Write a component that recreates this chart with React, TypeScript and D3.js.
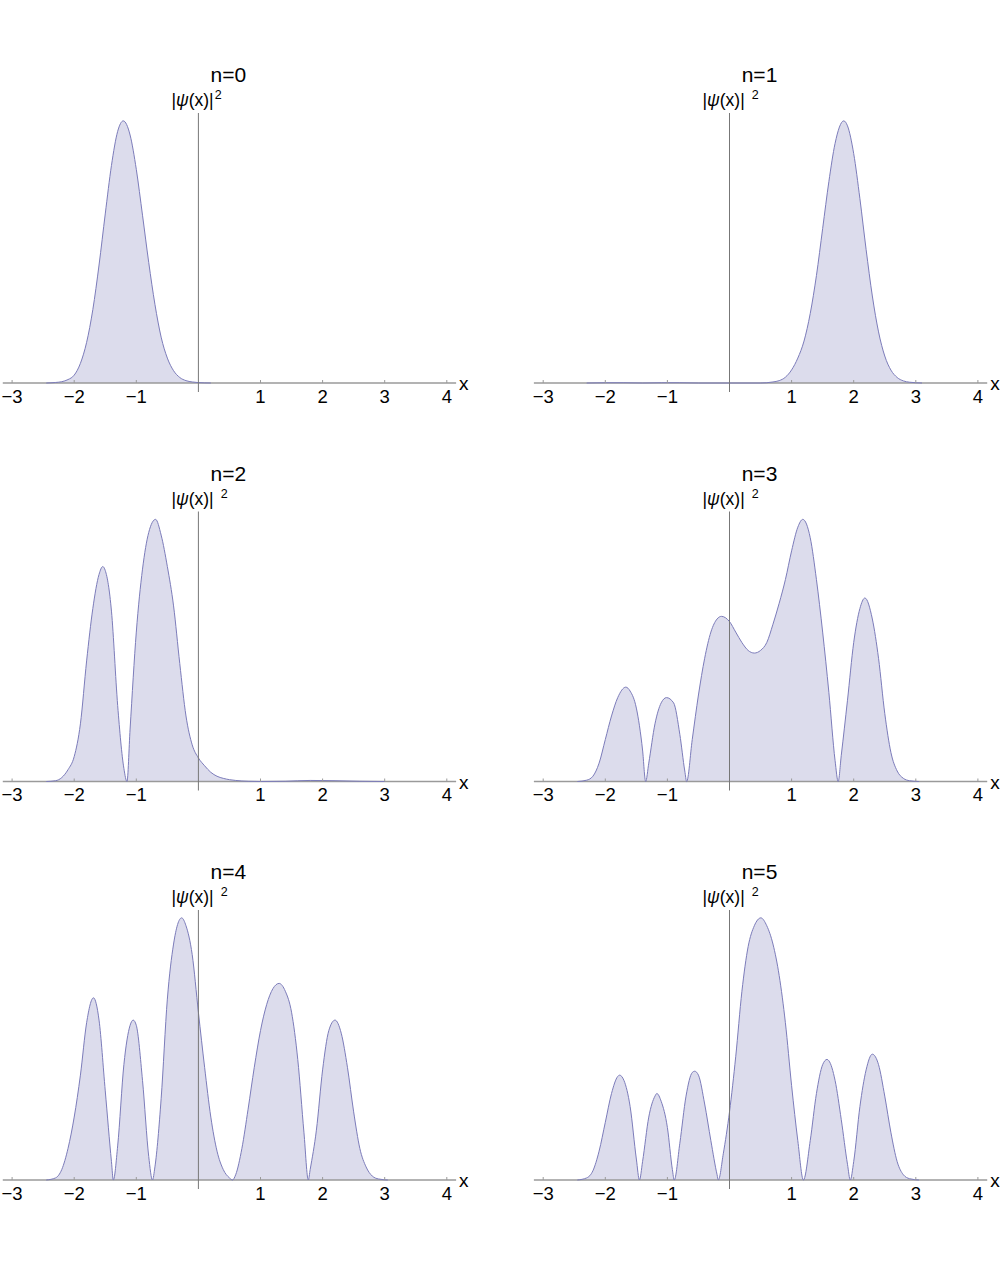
import * as d3 from 'd3';

// tick labels on the horizontal axis (0 is left blank, the vertical axis sits there)
const xTicks = [-3, -2, -1, 1, 2, 3, 4];
const titles = ['n=0', 'n=1', 'n=2', 'n=3', 'n=4', 'n=5'];

// |psi(x)|^2, each panel scaled so its tallest peak is 1
const psi0: [number, number][] = [
  [-2.45, 0], [-2.3, 0.002], [-2.2, 0.005], [-2.1, 0.013], [-2.0, 0.03], [-1.9, 0.075],
  [-1.8, 0.155], [-1.7, 0.28], [-1.6, 0.45], [-1.5, 0.645], [-1.4, 0.83], [-1.3, 0.96],
  [-1.21, 1.0], [-1.1, 0.946], [-1.0, 0.815], [-0.9, 0.64], [-0.8, 0.46], [-0.7, 0.3],
  [-0.6, 0.175], [-0.5, 0.095], [-0.4, 0.047], [-0.3, 0.021], [-0.2, 0.009], [-0.1, 0.004],
  [0, 0.0015], [0.2, 0],
];

const psi1: [number, number][] = [
  [-2.3, 0], [-2.0, 0.001], [-1.7, 0.001], [-1.4, 0], [-1.1, 0.001], [-0.8, 0.001], [-0.5, 0],
  [0.5, 0], [0.6, 0.001], [0.7, 0.004], [0.8, 0.009], [0.9, 0.022], [1.0, 0.05], [1.1, 0.095],
  [1.2, 0.16], [1.3, 0.265], [1.4, 0.41], [1.5, 0.589], [1.6, 0.768], [1.7, 0.914], [1.84, 1.0],
  [1.9, 0.981], [2.0, 0.875], [2.1, 0.703], [2.2, 0.509], [2.3, 0.332], [2.4, 0.195], [2.5, 0.103],
  [2.6, 0.049], [2.7, 0.021], [2.8, 0.008], [2.9, 0.003], [3.1, 0],
];

const psi2: [number, number][] = [
  [-2.45, 0], [-2.3, 0.003], [-2.2, 0.015], [-2.1, 0.045], [-2.0, 0.095], [-1.9, 0.22],
  [-1.8, 0.46], [-1.7, 0.66], [-1.6, 0.79], [-1.54, 0.82], [-1.5, 0.805], [-1.4, 0.65],
  [-1.3, 0.29], [-1.2, 0.05], [-1.15, 0], [-1.1, 0.2], [-1.0, 0.57], [-0.9, 0.81], [-0.8, 0.95],
  [-0.69, 1.0], [-0.6, 0.94], [-0.5, 0.82], [-0.4, 0.67], [-0.3, 0.45], [-0.2, 0.25], [-0.1, 0.14],
  [0, 0.09], [0.1, 0.06], [0.2, 0.035], [0.3, 0.02], [0.4, 0.012], [0.5, 0.007], [0.6, 0.004],
  [0.8, 0.001], [1.0, 0], [1.4, 0.001], [1.8, 0.004], [2.2, 0.003], [2.6, 0.001], [3.0, 0],
];

const psi3: [number, number][] = [
  [-2.45, 0], [-2.3, 0.005], [-2.2, 0.02], [-2.1, 0.07], [-2.0, 0.16], [-1.9, 0.25], [-1.8, 0.32],
  [-1.67, 0.36], [-1.6, 0.345], [-1.5, 0.28], [-1.4, 0.12], [-1.35, 0], [-1.3, 0.07], [-1.2, 0.22],
  [-1.1, 0.3], [-1.015, 0.32], [-0.9, 0.3], [-0.8, 0.18], [-0.72, 0.04], [-0.69, 0], [-0.6, 0.16],
  [-0.5, 0.33], [-0.4, 0.47], [-0.3, 0.57], [-0.2, 0.62], [-0.13, 0.63], [0, 0.61], [0.1, 0.57],
  [0.2, 0.53], [0.3, 0.5], [0.4, 0.49], [0.5, 0.5], [0.6, 0.53], [0.7, 0.6], [0.8, 0.68],
  [0.9, 0.77], [1.0, 0.88], [1.1, 0.97], [1.18, 1.0], [1.3, 0.93], [1.4, 0.77], [1.5, 0.57],
  [1.6, 0.34], [1.7, 0.08], [1.75, 0], [1.8, 0.1], [1.9, 0.31], [2.0, 0.53], [2.1, 0.66],
  [2.18, 0.7], [2.3, 0.62], [2.4, 0.47], [2.5, 0.26], [2.6, 0.11], [2.7, 0.04], [2.8, 0.012],
  [2.9, 0.003], [3.05, 0],
];

const psi4: [number, number][] = [
  [-2.45, 0], [-2.3, 0.008], [-2.2, 0.04], [-2.1, 0.12], [-2.0, 0.24], [-1.9, 0.4], [-1.8, 0.6],
  [-1.69, 0.695], [-1.6, 0.61], [-1.5, 0.34], [-1.4, 0.07], [-1.37, 0], [-1.3, 0.13], [-1.2, 0.44],
  [-1.1, 0.59], [-1.05, 0.61], [-1.0, 0.59], [-0.9, 0.38], [-0.8, 0.09], [-0.74, 0], [-0.7, 0.05],
  [-0.6, 0.31], [-0.5, 0.69], [-0.4, 0.9], [-0.27, 1.0], [-0.2, 0.97], [-0.1, 0.86], [0, 0.64],
  [0.1, 0.43], [0.2, 0.24], [0.3, 0.11], [0.4, 0.04], [0.5, 0.008], [0.55, 0], [0.6, 0.02],
  [0.7, 0.12], [0.8, 0.27], [0.9, 0.43], [1.0, 0.57], [1.1, 0.67], [1.2, 0.73], [1.3, 0.75],
  [1.4, 0.72], [1.5, 0.64], [1.6, 0.46], [1.7, 0.18], [1.77, 0], [1.8, 0.04], [1.9, 0.19],
  [2.0, 0.42], [2.1, 0.57], [2.2, 0.61], [2.3, 0.56], [2.4, 0.43], [2.5, 0.26], [2.6, 0.12],
  [2.7, 0.05], [2.8, 0.015], [2.9, 0.004], [3.05, 0],
];

const psi5: [number, number][] = [
  [-2.45, 0], [-2.3, 0.008], [-2.2, 0.035], [-2.1, 0.11], [-2.0, 0.22], [-1.9, 0.33], [-1.8, 0.395],
  [-1.77, 0.4], [-1.7, 0.38], [-1.6, 0.28], [-1.5, 0.08], [-1.45, 0], [-1.4, 0.07], [-1.3, 0.24],
  [-1.2, 0.32], [-1.17, 0.33], [-1.1, 0.3], [-1.0, 0.2], [-0.92, 0.04], [-0.89, 0], [-0.8, 0.14],
  [-0.7, 0.32], [-0.6, 0.41], [-0.56, 0.415], [-0.5, 0.4], [-0.4, 0.29], [-0.3, 0.15], [-0.2, 0.02],
  [-0.18, 0], [-0.1, 0.1], [0, 0.26], [0.1, 0.47], [0.2, 0.72], [0.3, 0.89], [0.4, 0.97],
  [0.505, 1.0], [0.6, 0.97], [0.7, 0.9], [0.8, 0.78], [0.9, 0.6], [1.0, 0.36], [1.1, 0.15],
  [1.19, 0], [1.3, 0.15], [1.4, 0.33], [1.5, 0.44], [1.57, 0.46], [1.6, 0.455], [1.7, 0.38],
  [1.8, 0.23], [1.9, 0.06], [1.945, 0], [2.0, 0.07], [2.1, 0.28], [2.2, 0.42], [2.3, 0.48],
  [2.4, 0.44], [2.5, 0.32], [2.6, 0.18], [2.7, 0.07], [2.8, 0.02], [2.9, 0.005], [3.05, 0],
];

const series = [psi0, psi1, psi2, psi3, psi4, psi5];

const W = 1000;
const H = 1265;
const FONT = '"Liberation Sans", Arial, sans-serif';
const colZero = [198.4, 729.5];
const rowAxis = [383, 781.5, 1180];
const UNIT = 62.1;
const PLOT_H = 270;
const X_MIN = -3.15;
const X_MAX = 4.15;

const Panel = ({ idx }: { idx: number }) => {
  const col = idx % 2;
  const row = Math.floor(idx / 2);
  const zero = colZero[col];
  const axisY = rowAxis[row];
  const top = axisY - PLOT_H;

  const x = d3.scaleLinear()
    .domain([X_MIN, X_MAX])
    .range([zero + X_MIN * UNIT, zero + X_MAX * UNIT]);
  const y = d3.scaleLinear().domain([0, 1.03]).range([axisY, top]);

  const area = d3.area<[number, number]>()
    .x(d => x(d[0]))
    .y0(axisY)
    .y1(d => y(d[1]))
    .curve(d3.curveMonotoneX);
  const line = d3.line<[number, number]>()
    .x(d => x(d[0]))
    .y(d => y(d[1]))
    .curve(d3.curveMonotoneX);

  const data = series[idx];
  const [x0, x1] = x.range();

  return (
    <g>
      <path d={area(data) || ''} fill="#dcdcec" stroke="none" />
      <line x1={x0} x2={x1} y1={axisY} y2={axisY} stroke="#9a9a9a" strokeWidth={1.4} />
      <path d={line(data) || ''} fill="none" stroke="#7c7cba" strokeWidth={1} />
      {xTicks.map(t => (
        <g key={t}>
          <line x1={x(t)} x2={x(t)} y1={axisY} y2={axisY - 3} stroke="#9a9a9a" strokeWidth={1} />
          <text x={x(t)} y={axisY + 19.5} fontSize={18.5} textAnchor="middle" fontFamily={FONT} fill="#000">
            {t < 0 ? `\u2212${Math.abs(t)}` : t}
          </text>
        </g>
      ))}
      <text x={x1 + 3} y={axisY + 7} fontSize={19} fontFamily={FONT} fill="#000">x</text>
      <line x1={zero} x2={zero} y1={axisY + 9} y2={top} stroke="#777" strokeWidth={1} />
      <text x={zero + 30} y={top - 31} fontSize={21} textAnchor="middle" fontFamily={FONT} fill="#000">
        {titles[idx]}
      </text>
      <text x={zero - 27} y={top - 7} fontSize={17.5} fontFamily={FONT} fill="#000">
        |<tspan fontStyle="italic">ψ</tspan>(x)|
        <tspan dx={idx === 0 ? 1 : 7} dy={-7} fontSize={12.5}>2</tspan>
      </text>
    </g>
  );
};

export default function App() {
  return (
    <svg
      width={W}
      height={H}
      viewBox={`0 0 ${W} ${H}`}
      style={{ position: 'absolute', left: 0, top: 0, background: '#fff' }}
    >
      <rect width={W} height={H} fill="#fff" />
      {series.map((_, i) => <Panel key={i} idx={i} />)}
    </svg>
  );
}
